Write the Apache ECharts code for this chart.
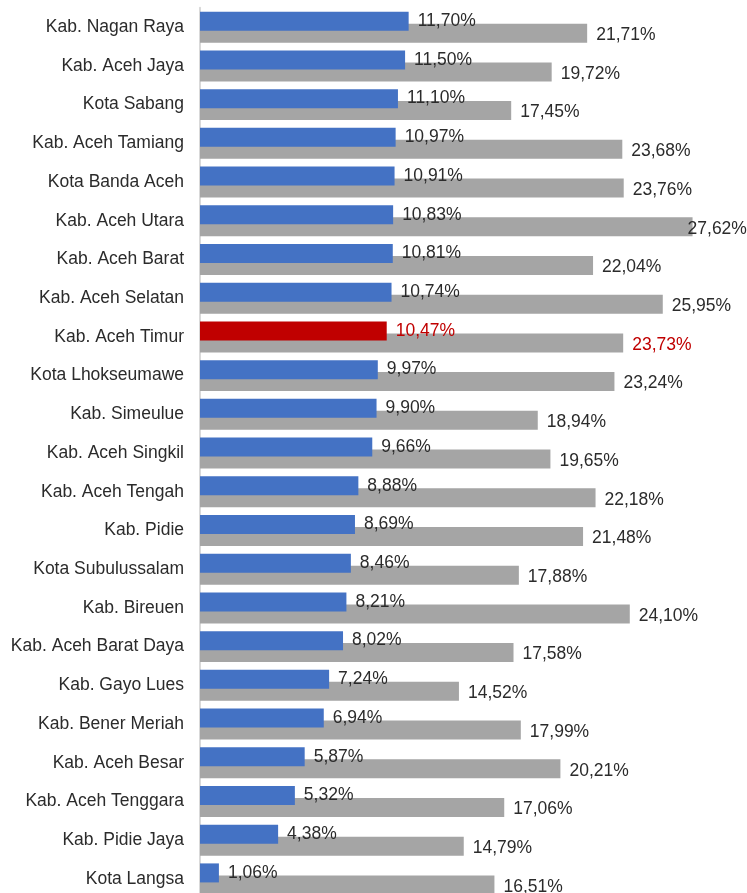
<!DOCTYPE html>
<html>
<head>
<meta charset="utf-8">
<script src="https://cdn.jsdelivr.net/npm/echarts@6/dist/echarts.min.js"></script>
<style>
  html, body { margin: 0; padding: 0; background: #fff; overflow: hidden; }
  /* canvas extends a few pixels below the window so the last row is cut off */
  #chart { width: 747px; height: 899px; }
</style>
</head>
<body>
<div id="chart"></div>
<script>
// Regions (top to bottom)
const categories = [
  'Kab. Nagan Raya', 'Kab. Aceh Jaya', 'Kota Sabang', 'Kab. Aceh Tamiang',
  'Kota Banda Aceh', 'Kab. Aceh Utara', 'Kab. Aceh Barat', 'Kab. Aceh Selatan',
  'Kab. Aceh Timur', 'Kota Lhokseumawe', 'Kab. Simeulue', 'Kab. Aceh Singkil',
  'Kab. Aceh Tengah', 'Kab. Pidie', 'Kota Subulussalam', 'Kab. Bireuen',
  'Kab. Aceh Barat Daya', 'Kab. Gayo Lues', 'Kab. Bener Meriah', 'Kab. Aceh Besar',
  'Kab. Aceh Tenggara', 'Kab. Pidie Jaya', 'Kota Langsa'
];

// First measure (blue bars)
const blueValues = [
  11.70, 11.50, 11.10, 10.97, 10.91, 10.83, 10.81, 10.74, 10.47, 9.97, 9.90, 9.66,
  8.88, 8.69, 8.46, 8.21, 8.02, 7.24, 6.94, 5.87, 5.32, 4.38, 1.06
];

// Second measure (grey bars)
const greyValues = [
  21.71, 19.72, 17.45, 23.68, 23.76, 27.62, 22.04, 25.95, 23.73, 23.24, 18.94, 19.65,
  22.18, 21.48, 17.88, 24.10, 17.58, 14.52, 17.99, 20.21, 17.06, 14.79, 16.51
];

const highlightName = 'Kab. Aceh Timur';

const BLUE = '#4472c4';
const GREY = '#a5a5a5';
const RED = '#c00000';
const TEXT = '#2b2b2b';
const FONT = '"Liberation Sans", Arial, sans-serif';
const FS = 17.5;

const fmt = v => v.toFixed(2).replace('.', ',') + '%';

const blueData = blueValues.map((v, i) => {
  const hl = categories[i] === highlightName;
  return hl
    ? { value: v, itemStyle: { color: RED }, label: { color: RED } }
    : { value: v };
});

const greyData = greyValues.map((v, i) => {
  const item = { value: v };
  if (categories[i] === highlightName) item.label = { color: RED };
  // the longest bar keeps its label tucked against the end
  if (v === Math.max(...greyValues)) item.label = Object.assign({}, item.label, { distance: -5 });
  return item;
});

const chart = echarts.init(document.getElementById('chart'), null, { renderer: 'canvas' });

chart.setOption({
  animation: false,
  backgroundColor: '#ffffff',
  grid: { left: 200, width: 535, top: 7.85, bottom: 0.75, containLabel: false },
  xAxis: {
    type: 'value', min: 0, max: 30,
    show: false,
    splitLine: { show: false }
  },
  yAxis: {
    type: 'category',
    data: categories,
    inverse: true,
    axisTick: { show: false },
    axisLine: { show: true, lineStyle: { color: '#d9d9d9', width: 2 } },
    axisLabel: { color: TEXT, fontFamily: FONT, fontSize: FS, margin: 16 }
  },
  series: [
    {
      name: 'blue',
      type: 'bar',
      data: blueData,
      barWidth: 19,
      barGap: '-37%',
      z: 3,
      itemStyle: { color: BLUE },
      label: {
        show: true, position: 'right', distance: 9,
        color: TEXT, fontFamily: FONT, fontSize: FS,
        formatter: p => fmt(p.value)
      }
    },
    {
      name: 'grey',
      type: 'bar',
      data: greyData,
      barWidth: 19,
      z: 2,
      itemStyle: { color: GREY },
      label: {
        show: true, position: 'right', distance: 9, offset: [0, 2],
        color: TEXT, fontFamily: FONT, fontSize: FS,
        formatter: p => fmt(p.value)
      }
    }
  ]
});
</script>
</body>
</html>
